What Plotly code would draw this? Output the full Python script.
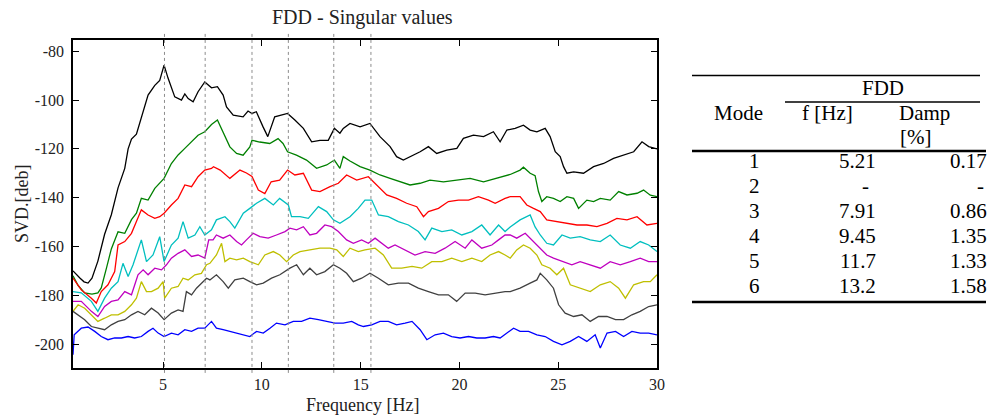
import plotly.graph_objects as go

# ---------------- data ----------------
black = [(0.44,-170),(0.6,-171.5),(0.8,-173),(1.0,-174.5),(1.2,-175),(1.4,-173),(1.7,-166),(2.04,-155),(2.38,-147),
         (2.72,-136),(3.06,-128),(3.23,-120),(3.4,-116),(3.65,-114),(3.9,-107.5),(4.24,-98),(4.58,-94),(4.83,-92),
         (5.05,-85.7),(5.25,-91),(5.59,-98.7),(5.93,-100),(6.1,-97.5),(6.27,-99.4),(6.52,-100.7),(6.77,-96.6),(7.11,-92.6),
         (7.45,-95),(7.75,-94.5),(8.04,-98),(8.21,-102.8),(8.55,-106.2),(9.05,-106.9),(9.3,-104.5),(9.5,-105.5),(9.72,-104.8),
         (10.06,-111),(10.3,-115),(10.65,-106.9),(10.99,-106.2),(11.3,-105.5),(11.67,-108.2),(12.1,-111.6),(12.52,-117.1),
         (12.94,-116.5),(13.36,-116.5),(13.67,-111.6),(13.95,-113.6),(14.12,-111.6),(14.46,-109.6),(14.97,-111),
         (15.47,-109.6),(15.98,-115),(16.49,-119.1),(16.82,-123.2),(17.16,-124.6),(17.67,-122.5),(18.01,-121.2),
         (18.43,-119.1),(18.85,-121.9),(19.36,-120.5),(19.87,-119.8),(20.2,-115.7),(20.71,-114.4),(21.22,-115),
         (21.72,-113),(22.06,-117.1),(22.4,-112.3),(22.82,-111.6),(23.24,-110.3),(23.58,-112.3),(23.92,-113),
         (24.34,-111.6),(24.59,-115),(24.85,-121.2),(25.1,-123.2),(25.27,-127.3),(25.44,-130),(25.78,-129.4),
         (26.28,-130),(26.79,-127.3),(27.3,-126),(27.8,-123.9),(28.31,-122.5),(28.82,-121.2),(29.24,-117.1),
         (29.58,-119.1),(30,-120)]

green = [(0.44,-172),(0.7,-176),(1.03,-179),(1.4,-179.5),(1.7,-179),(1.87,-177),(2.13,-169),(2.38,-161),(2.72,-154),
         (3.06,-154.6),(3.4,-149),(3.65,-146.4),(3.9,-140.3),(4.24,-141),(4.58,-136.2),(5.05,-132.1),(5.42,-126),
         (5.76,-122.5),(6.1,-119.8),(6.44,-117.1),(6.77,-114.4),(7.11,-113),(7.45,-110),(7.75,-108.2),(8.04,-113),
         (8.38,-119.2),(8.72,-121.9),(9.05,-122.6),(9.39,-119.2),(9.5,-116.5),(9.89,-117.2),(10.4,-117.8),
         (10.82,-115.8),(11.07,-117.8),(11.3,-121.2),(11.75,-122.6),(12.26,-124.6),(12.77,-128),(13.28,-126.6),
         (13.67,-124.6),(13.95,-128),(14.12,-123.2),(14.46,-125),(14.97,-127.3),(15.47,-128.7),(15.98,-130.7),
         (16.49,-132.1),(16.99,-133.5),(17.5,-134.8),(18.01,-134.1),(18.51,-132.8),(19.19,-133.5),(19.87,-132.8),
         (20.54,-132.1),(21.22,-133.5),(21.89,-132.1),(22.57,-130.5),(23.07,-128.7),(23.24,-127.5),(23.58,-130),
         (23.83,-131),(24.0,-137.5),(24.17,-141.6),(24.42,-139.6),(24.76,-140.3),(25.1,-141.6),(25.44,-139.6),
         (25.78,-140.3),(26.03,-144.4),(26.45,-141),(26.79,-141.6),(27.13,-140.3),(27.63,-141),(28.06,-137.5),
         (28.48,-138.9),(28.99,-138.2),(29.32,-136.9),(29.66,-139),(30,-139.6)]

red = [(0.44,-173),(0.86,-177.8),(1.37,-181.2),(1.62,-183.2),(1.87,-178.5),(2.21,-175.7),(2.55,-170.3),(2.72,-159.4),
       (3.06,-158),(3.4,-154.6),(3.65,-149.8),(3.9,-145),(4.24,-147.1),(4.58,-148.5),(4.83,-147.8),(5.05,-146.4),
       (5.42,-143),(5.76,-140.3),(6.1,-134.8),(6.44,-135.5),(6.77,-131.4),(7.11,-128.7),(7.45,-128),(7.55,-127.3),
       (7.89,-128.7),(8.38,-132.1),(8.89,-128.7),(9.22,-129.9),(9.5,-131.3),(9.82,-136.9),(10.15,-138.3),
       (10.47,-133.5),(10.9,-132.8),(11.3,-128.7),(11.67,-130.7),(12.1,-130),(12.52,-136.9),(12.94,-137.5),
       (13.45,-135.5),(13.87,-134.1),(14.29,-130.7),(14.8,-132.8),(15.39,-131.4),(15.81,-134.8),(16.32,-138.9),
       (16.82,-140.3),(17.33,-142.3),(17.84,-143.7),(18.18,-147.8),(18.43,-145.7),(18.94,-144.4),(19.44,-141.6),
       (19.95,-141),(20.46,-141),(20.96,-139.6),(21.47,-141),(21.81,-142.3),(22.31,-140.3),(22.57,-139.6),
       (23.07,-139.6),(23.41,-143),(23.75,-144.4),(24.09,-145.7),(24.42,-149.1),(24.93,-149.8),(25.44,-150.5),
       (25.95,-151.2),(26.45,-151.2),(26.96,-151.9),(27.47,-150.5),(27.97,-148.5),(28.48,-149.1),(28.99,-147.8),
       (29.49,-151.2),(30,-150.5)]

cyan = [(0.44,-178.5),(0.86,-179),(1.37,-182.5),(1.7,-186.6),(2.04,-181.2),(2.38,-177.1),(2.72,-174.4),(2.97,-166.9),
        (3.23,-172.3),(3.48,-167.5),(3.9,-157.3),(4.16,-166.2),(4.49,-163.5),(4.83,-156),(5.05,-166.2),(5.42,-159.4),
        (5.76,-156.6),(6.01,-149.8),(6.27,-156.6),(6.61,-155.3),(6.86,-151.9),(7.11,-155.3),(7.45,-153.2),
        (7.7,-149.1),(8.13,-147.8),(8.38,-149.8),(8.63,-152.5),(9.06,-146.4),(9.39,-144.4),(9.73,-142.3),
        (10.15,-140.3),(10.58,-143),(10.9,-140.3),(11.34,-143),(11.5,-147.8),(11.93,-147.8),(12.35,-148.5),
        (12.86,-143.7),(13.28,-145.7),(13.62,-149.1),(13.95,-150.5),(14.46,-147.8),(14.88,-144.4),(15.22,-141),
        (15.56,-141),(15.9,-147.1),(16.4,-147.8),(16.91,-149.8),(17.42,-151.2),(17.92,-153.9),(18.26,-157.3),
        (18.6,-152.5),(19.11,-153.9),(19.61,-153.2),(20.12,-155.3),(20.63,-153.9),(21.13,-151.2),(21.55,-155.3),
        (21.98,-151.2),(22.31,-153.9),(22.57,-152),(23.07,-149.1),(23.58,-147.1),(23.83,-152),(24.09,-155.3),
        (24.42,-158.7),(24.76,-159.4),(25.19,-155.3),(25.61,-156.6),(26.11,-156),(26.62,-157.3),(27.13,-158),
        (27.63,-155.3),(28.14,-159.4),(28.65,-160.7),(29.15,-158),(29.58,-159.4),(30,-162.1)]

magenta = [(0.44,-182.5),(0.86,-182.5),(1.37,-186.6),(1.7,-188.7),(2.04,-184.6),(2.38,-182.5),(2.72,-181.9),
           (3.06,-178.5),(3.4,-179.8),(3.73,-171.6),(3.99,-169.6),(4.24,-171.6),(4.58,-168.9),(4.92,-169.6),
           (5.17,-167.5),(5.42,-164.8),(5.76,-162.8),(6.1,-161.4),(6.44,-164.1),(6.77,-163.5),(7.11,-164.8),
           (7.31,-157.3),(7.53,-157.3),(7.7,-155.3),(8.04,-156.6),(8.38,-155.3),(8.72,-158),(8.97,-159.4),
           (9.22,-157.3),(9.56,-154.6),(9.9,-156),(10.32,-156.6),(10.74,-155.3),(11.17,-153.9),(11.42,-152.5),
           (11.76,-153.2),(12.1,-151.9),(12.43,-155.3),(12.77,-154.6),(13.19,-151.2),(13.53,-151.9),(13.87,-153.9),
           (14.29,-157.3),(14.63,-158.7),(15.05,-157.3),(15.39,-158.7),(15.73,-156.6),(16.06,-158.7),(16.4,-160.7),
           (16.74,-159.4),(17.25,-161.4),(17.75,-163.5),(18.26,-162.1),(18.77,-162.8),(19.27,-160.7),(19.78,-158),
           (20.29,-160.7),(20.63,-157.3),(21.13,-160.7),(21.64,-159.4),(21.98,-157.3),(22.31,-155.3),(22.57,-155.3),
           (22.9,-156.6),(23.33,-154.6),(23.66,-157.3),(24.09,-160.7),(24.42,-163.5),(24.76,-164.8),(25.27,-166.2),
           (25.69,-167.5),(26.11,-166.2),(26.62,-167.5),(27.13,-168.9),(27.63,-166.2),(28.14,-167.5),(28.65,-166.2),
           (29.15,-164.8),(29.58,-166.2),(30,-166.2)]

yellow = [(0.44,-186.6),(0.7,-183.9),(1.03,-185.3),(1.37,-188),(1.7,-190.7),(2.04,-189.4),(2.38,-188),(2.72,-188),
          (3.06,-186.6),(3.4,-183.9),(3.65,-181.2),(3.9,-174.4),(4.16,-178.5),(4.41,-178.5),(4.75,-177.1),(5.0,-174.4),
          (5.08,-181.2),(5.42,-177.1),(5.76,-176.4),(6.01,-173),(6.27,-173.7),(6.61,-171.6),(6.94,-171),(7.2,-167.5),
          (7.37,-166.9),(7.7,-163.5),(7.96,-158.7),(8.13,-166.2),(8.38,-164.8),(8.72,-165.5),(9.06,-164.8),
          (9.39,-166.2),(9.82,-167.5),(10.15,-163.5),(10.58,-162.1),(10.91,-163.5),(11.25,-166.2),(11.59,-163.5),
          (11.93,-162.1),(12.43,-161.4),(12.94,-160.7),(13.45,-160.7),(13.79,-161.4),(14.12,-164.1),(14.46,-160.7),
          (14.88,-162.1),(15.22,-161.4),(15.73,-160.7),(16.15,-163.5),(16.57,-168.9),(17.08,-168.9),(17.6,-168.2),
          (18.09,-168.9),(18.6,-166.2),(19.11,-166.2),(19.61,-164.8),(20.12,-166.2),(20.63,-164.8),(21.13,-166.2),
          (21.55,-163.5),(21.98,-162.1),(22.31,-163.5),(22.57,-164.8),(22.9,-161.4),(23.24,-159.4),(23.58,-160.7),
          (23.92,-163.5),(24.17,-167.5),(24.59,-168.9),(24.93,-171.6),(25.27,-168.9),(25.61,-175.7),(26.11,-177.1),
          (26.62,-178.5),(27.13,-175.7),(27.63,-174.4),(28.06,-177.1),(28.4,-181.2),(28.82,-175.7),(29.32,-174.4),
          (29.66,-174.4),(30,-171.6)]

darkgray = [(0.44,-186.6),(0.7,-188),(1.03,-190),(1.37,-192.8),(1.7,-193.5),(2.04,-194.1),(2.38,-192.1),(2.72,-190.7),
            (3.06,-190),(3.4,-188),(3.73,-186.6),(4.07,-188),(4.41,-185.3),(4.75,-187.3),(5.05,-190),(5.42,-187.3),
            (5.76,-186),(6.01,-186.6),(6.18,-178.5),(6.44,-179.8),(6.69,-177.1),(6.94,-175),(7.2,-173),(7.37,-173.7),
            (7.7,-171.6),(8.04,-174.4),(8.3,-177.1),(8.63,-173.7),(9.06,-173),(9.39,-174.4),(9.73,-175.7),(10.07,-175),
            (10.49,-173),(10.91,-171.6),(11.42,-168.9),(11.76,-167.5),(12.1,-171.6),(12.43,-168.9),(12.77,-171.6),
            (13.19,-170.3),(13.62,-167.5),(13.95,-168.9),(14.29,-171),(14.63,-174.4),(15.05,-173),(15.47,-171),
            (15.9,-173),(16.4,-175.7),(16.91,-175),(17.42,-175),(17.92,-177.1),(18.43,-178.5),(18.94,-179.8),
            (19.44,-179.8),(19.86,-182.5),(20.29,-179.1),(20.8,-179.1),(21.3,-179.8),(21.81,-179.1),(22.31,-178.5),
            (22.57,-178.5),(23.07,-177.1),(23.58,-175),(23.92,-173.7),(24.09,-171),(24.42,-173.7),(24.76,-177.1),
            (25.02,-183.9),(25.35,-187.3),(25.78,-188.7),(26.2,-188),(26.62,-190.7),(27.04,-188.7),(27.47,-188.7),
            (27.9,-190),(28.31,-190),(28.73,-188),(29.15,-186.6),(29.58,-184.6),(30,-183.9)]

blue = [(0.44,-204.4),(0.5,-196.2),(0.86,-193.5),(1.2,-193),(1.54,-194.8),(1.87,-196.9),(2.21,-198.2),(2.55,-197.5),
        (2.89,-197.5),(3.23,-196.9),(3.56,-197.5),(3.9,-196.9),(4.24,-194.8),(4.49,-193.5),(4.75,-195.5),(5.05,-196.9),
        (5.42,-195.5),(5.76,-196.2),(6.1,-194.1),(6.44,-194.8),(6.77,-193.5),(7.11,-193.5),(7.45,-190.7),(7.7,-193.5),
        (8.04,-194.1),(8.38,-194.8),(8.72,-195.5),(9.06,-196.2),(9.39,-196.9),(9.73,-194.8),(10.07,-195.5),
        (10.41,-193.5),(10.74,-191.4),(11.17,-192.1),(11.59,-190.7),(12.01,-190.7),(12.43,-189.4),(12.86,-190),
        (13.28,-190.7),(13.7,-191.4),(14.12,-191.4),(14.55,-190.7),(14.88,-192.1),(15.14,-192.8),(15.56,-192.1),
        (15.98,-190.7),(16.4,-190.7),(16.82,-192.1),(17.25,-191.4),(17.6,-190.7),(18.01,-194.1),(18.35,-198.2),
        (18.77,-196.2),(19.19,-195.5),(19.61,-196.9),(20.03,-197.5),(20.46,-196.9),(20.88,-197.5),(21.3,-197.5),
        (21.72,-196.9),(22.06,-197.5),(22.4,-195.5),(22.74,-193.5),(23.07,-194.8),(23.5,-194.8),(23.92,-196.2),
        (24.34,-196.9),(24.76,-198.9),(25.19,-200.3),(25.61,-198.9),(26.03,-196.9),(26.45,-198.9),(26.87,-196.2),
        (27.13,-201.6),(27.47,-195.5),(27.9,-194.8),(28.31,-196.9),(28.73,-194.8),(29.15,-195.5),(29.58,-195.5),
        (30,-196.2)]

peak_freqs = [5.07, 7.13, 9.5, 11.34, 13.64, 15.52]
x_ticks = [5, 10, 15, 20, 25, 30]
y_ticks = [-80, -100, -120, -140, -160, -180, -200]

modes = ["1", "2", "3", "4", "5", "6"]
freqs = ["5.21", "-", "7.91", "9.45", "11.7", "13.2"]
damps = ["0.17", "-", "0.86", "1.35", "1.33", "1.58"]

# ---------------- figure ----------------
W, H = 999, 417
ML, MR, MT, MB = 73, 342, 40, 49
PW, PH = W - ML - MR, H - MT - MB

def px(x):
    return (x - ML) / PW

def py(y):
    return (H - MB - y) / PH

SERIF = "Liberation Serif"

series = [(black, "#000000"), (green, "#008000"), (red, "#ff0000"), (cyan, "#00bfbf"),
          (magenta, "#bf00bf"), (yellow, "#bfbf00"), (darkgray, "#404040"), (blue, "#0000ff")]

fig = go.Figure()
for pts, col in series:
    fig.add_trace(go.Scatter(x=[p[0] for p in pts], y=[p[1] for p in pts], mode="lines",
                             line=dict(color=col, width=1.3), showlegend=False, hoverinfo="skip"))

for f in peak_freqs:
    fig.add_shape(type="line", xref="x", yref="paper", x0=f, x1=f, y0=-0.015, y1=1.02,
                  line=dict(color="#8c8c8c", width=1, dash="dot"), layer="above")

axis_common = dict(showline=True, linecolor="black", linewidth=1.5, mirror="ticks", ticks="inside",
                   ticklen=6, tickwidth=1, tickcolor="black", showgrid=False, zeroline=False,
                   tickfont=dict(family=SERIF, size=16, color="#222"))

fig.update_xaxes(range=[0.44, 30], tickvals=x_ticks, ticktext=[str(v) for v in x_ticks],
                 ticklabelstandoff=1, **axis_common)
fig.update_yaxes(range=[-209.8, -75.4], tickvals=y_ticks, ticktext=[str(v) for v in y_ticks],
                 ticklabelstandoff=4, **axis_common)

ann = []
ann.append(dict(text="FDD - Singular values", x=px(362), y=py(18), xref="paper", yref="paper",
                showarrow=False, font=dict(family=SERIF, size=20, color="#222"), xanchor="center", yanchor="middle"))
ann.append(dict(text="Frequency [Hz]", x=px(362), y=py(405), xref="paper", yref="paper",
                showarrow=False, font=dict(family=SERIF, size=18, color="#222"), xanchor="center", yanchor="middle"))
ann.append(dict(text="SVD.[deb]", x=px(22), y=py(204), xref="paper", yref="paper", textangle=-90,
                showarrow=False, font=dict(family=SERIF, size=18, color="#222"), xanchor="center", yanchor="middle"))

TF = dict(family=SERIF, size=21, color="black")
def t(text, x, y, xa="center"):
    ann.append(dict(text=text, x=px(x), y=py(y), xref="paper", yref="paper", showarrow=False,
                    font=TF, xanchor=xa, yanchor="middle"))

t("FDD", 883, 88)
t("Mode", 738, 113)
t("f [Hz]", 827, 113)
t("Damp", 897, 113, "left")
t("[%]", 898, 137, "left")
row_y = [161, 186, 211, 236, 261, 286]
for m, f, d, yy in zip(modes, freqs, damps, row_y):
    t(m, 754, yy)
    if f == "-":
        t(f, 865, yy)
        t(d, 980, yy)
    else:
        t(f, 878, yy, "right")
        t(d, 989, yy, "right")

def hline(x0, x1, y, w):
    fig.add_shape(type="line", xref="paper", yref="paper", x0=px(x0), x1=px(x1), y0=py(y), y1=py(y),
                  line=dict(color="black", width=w))

hline(692, 980, 75.5, 1.5)
hline(785, 980, 102, 1.5)
hline(692, 986, 151, 2.5)
hline(692, 986, 302, 2.5)

fig.update_layout(width=W, height=H, margin=dict(l=ML, r=MR, t=MT, b=MB),
                  paper_bgcolor="white", plot_bgcolor="white", annotations=ann,
                  font=dict(family=SERIF))

fig.write_html("out.html")
